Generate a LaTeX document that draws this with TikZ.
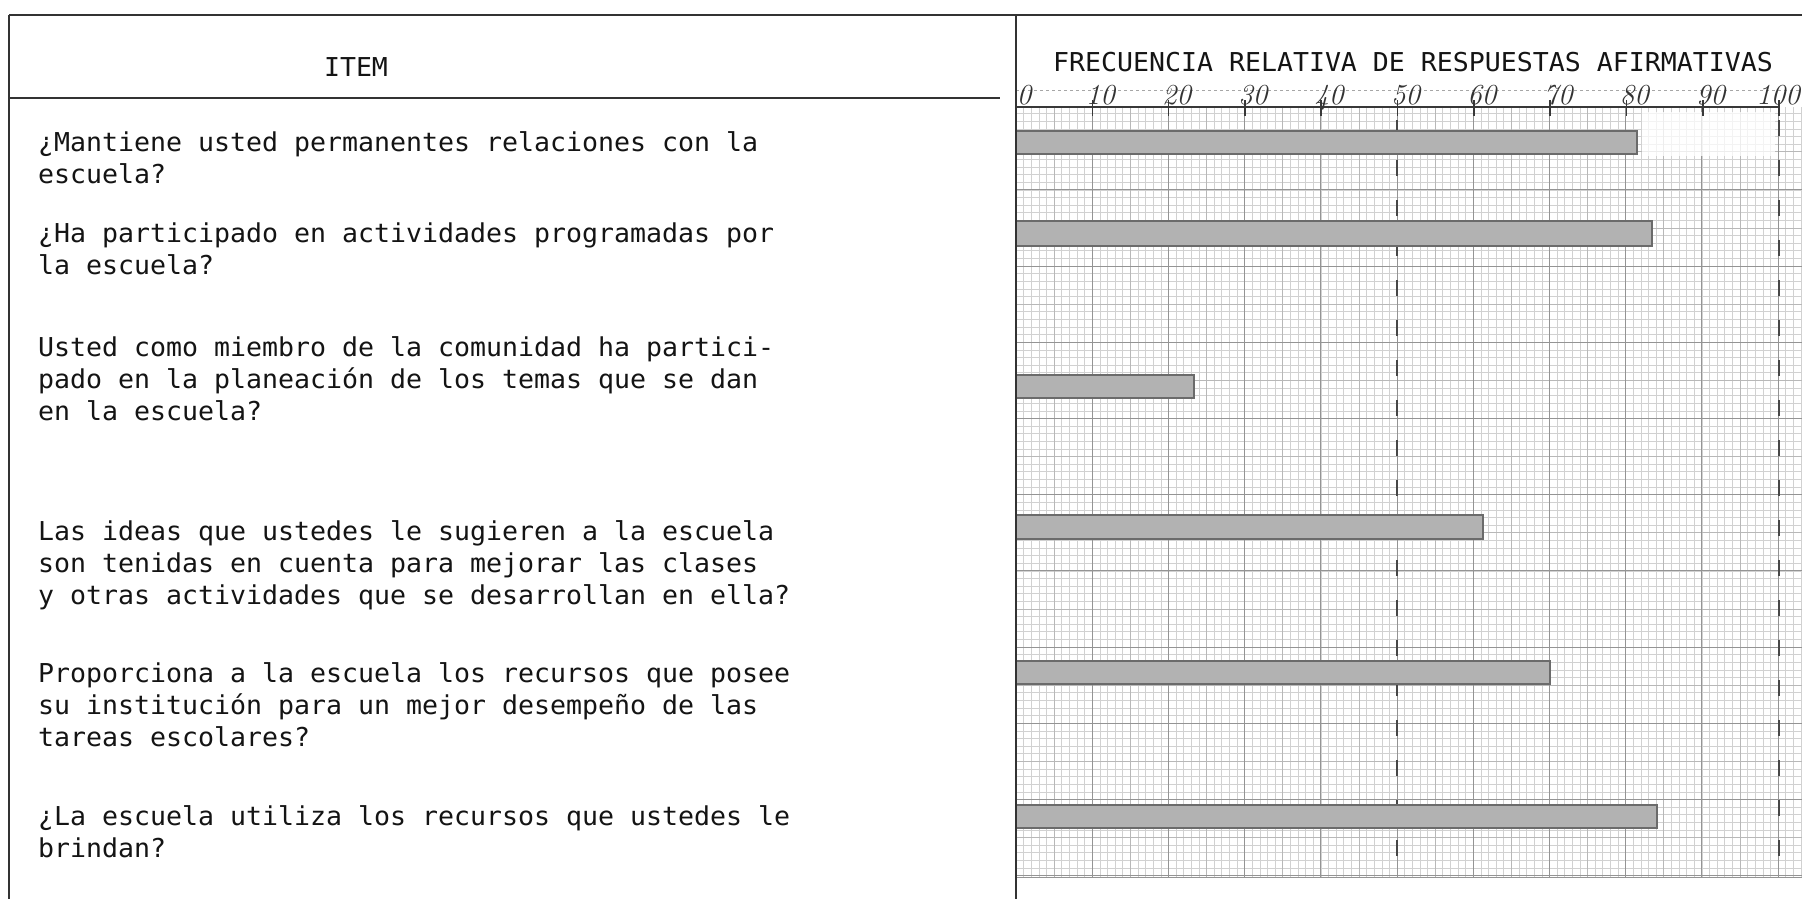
\documentclass[tikz,border=0pt]{standalone}
\usepackage{fontspec}
\newfontfamily\tw[FakeStretch=1.022]{DejaVu Sans Mono}
\begin{document}
\begin{tikzpicture}[x=1pt,y=-1pt,
  txt/.style={anchor=base west,inner sep=0pt,font=\tw\fontsize{26}{32}\selectfont,text=black!92},
  hdr/.style={anchor=base,inner sep=0pt,font=\tw\fontsize{26}{32}\selectfont,text=black!92},
  num/.style={anchor=base,inner sep=0pt,font=\rmfamily\itshape\fontsize{29}{30}\selectfont,text=black!80},
  minorline/.style={line width=0.55pt,black!18},
  midline/.style={line width=0.75pt,black!28},
  majorline/.style={line width=1pt,black!42},
  frame/.style={line width=1.8pt,black!80},
  bar/.style={fill=black!30,draw=black!58,line width=1.6pt},
  pencil/.style={line width=2.4pt,black!72,dash pattern=on 16pt off 24pt}]
\useasboundingbox (0,0) rectangle (1802,899);
\clip (0,0) rectangle (1802,899);
\fill[white] (0,0) rectangle (1802,899);
% graph paper
\foreach \i in {0,...,103} \draw[minorline] ({1016+7.62*\i},107) -- ({1016+7.62*\i},877);
\foreach \j in {0,...,100} \draw[minorline] (1016,{113.6+7.62*\j}) -- (1802,{113.6+7.62*\j});
\foreach \i in {5,15,...,105} \draw[midline] ({1016+7.62*\i},107) -- ({1016+7.62*\i},877);
\foreach \j in {5,15,...,95} \draw[midline] (1016,{113.6+7.62*\j}) -- (1802,{113.6+7.62*\j});
\foreach \i in {0,10,...,100} \draw[majorline] ({1016+7.62*\i},107) -- ({1016+7.62*\i},877);
\foreach \j in {10,20,...,100} \draw[majorline] (1016,{113.6+7.62*\j}) -- (1802,{113.6+7.62*\j});
\fill[white,opacity=0.75] (1642,112) rectangle (1775,156);
\draw[majorline] (1016,877) -- (1802,877);
% pencil verticals at 50 and 100
\draw[pencil] (1397,120) -- (1397,877);
\draw[pencil] (1779,120) -- (1779,877);
% bars
\draw[bar] (1016,131) rectangle (1637,154);
\draw[bar] (1016,221) rectangle (1652,246);
\draw[bar] (1016,375) rectangle (1194,398);
\draw[bar] (1016,515) rectangle (1483,539);
\draw[bar] (1016,661) rectangle (1550,684);
\draw[bar] (1016,805) rectangle (1657,828);
% scale
\draw[black!35,dashed,line width=0.8pt] (1016,90) -- (1802,90);
\draw[line width=2.2pt,black!78] (1016,107) -- (1780,107);
\foreach \i in {0,...,10} \draw[line width=1.6pt,black!78] ({1016+76.3*\i},100) -- ({1016+76.3*\i},116);
\foreach \v [count=\k from 0] in {0,10,20,30,40,50,60,70,80,90}
  \node[num] (n\k) at ({1024+76.3*\k},104) {\v};
\node[num] (n10) at (1778,104) {100};
% frame
\draw[frame] (9,15) -- (1802,15);
\draw[frame] (9,15) -- (9,899);
\draw[frame] (9,98) -- (1000,98);
\draw[frame] (1016,15) -- (1016,899);
% headers
\node[hdr] (item) at (356,77) {ITEM};
\node[hdr] (title) at (1413,71) {FRECUENCIA RELATIVA DE RESPUESTAS AFIRMATIVAS};
% items
\node[txt] (a1) at (38,151) {¿Mantiene usted permanentes relaciones con la};
\node[txt] (a2) at (38,183) {escuela?};
\node[txt] (b1) at (38,242) {¿Ha participado en actividades programadas por};
\node[txt] (b2) at (38,274) {la escuela?};
\node[txt] (c1) at (38,356) {Usted como miembro de la comunidad ha partici-};
\node[txt] (c2) at (38,388) {pado en la planeación de los temas que se dan};
\node[txt] (c3) at (38,420) {en la escuela?};
\node[txt] (d1) at (38,540) {Las ideas que ustedes le sugieren a la escuela};
\node[txt] (d2) at (38,572) {son tenidas en cuenta para mejorar las clases};
\node[txt] (d3) at (38,604) {y otras actividades que se desarrollan en ella?};
\node[txt] (e1) at (38,682) {Proporciona a la escuela los recursos que posee};
\node[txt] (e2) at (38,714) {su institución para un mejor desempeño de las};
\node[txt] (e3) at (38,746) {tareas escolares?};
\node[txt] (f1) at (38,825) {¿La escuela utiliza los recursos que ustedes le};
\node[txt] (f2) at (38,857) {brindan?};
\end{tikzpicture}
\end{document}
